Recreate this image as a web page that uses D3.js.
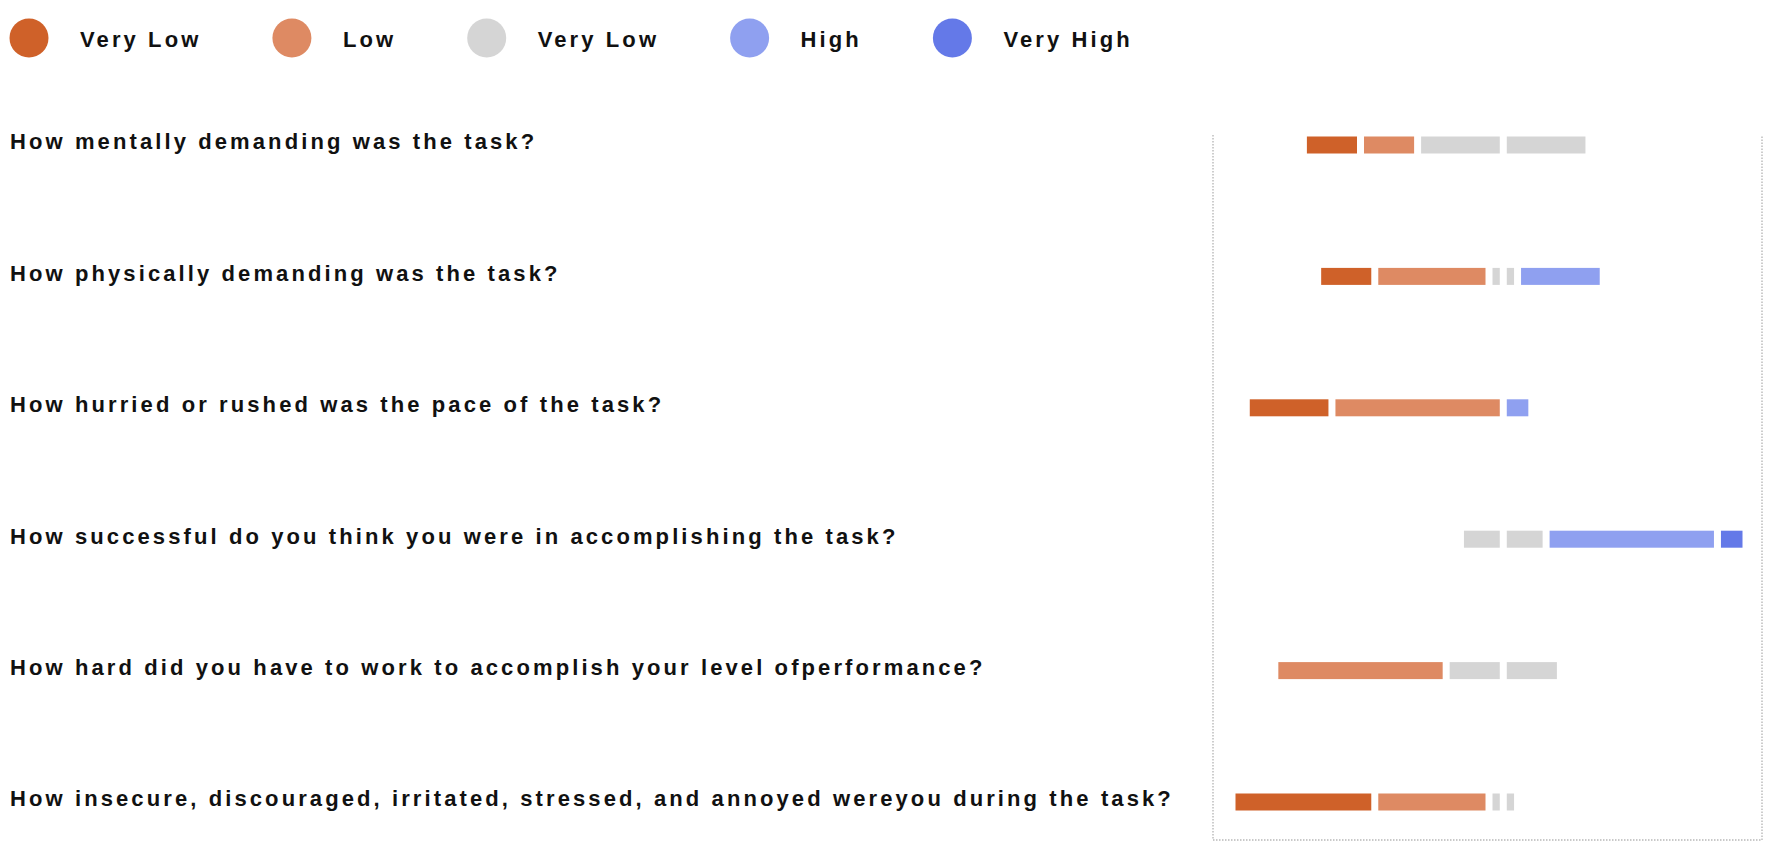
<!DOCTYPE html>
<html>
<head>
<meta charset="utf-8">
<script src="https://cdn.jsdelivr.net/npm/d3@7"></script>
<style>
  body { margin: 0; background: #fff; }
  text { font-family: "Liberation Sans", Arial, Helvetica, sans-serif; font-weight: bold; fill: #111; }
</style>
</head>
<body>
<div id="chart"></div>
<script>
// ── Data (counts of 10 participants) ──────────────────────
const questions = [
  "How mentally demanding was the task?",
  "How physically demanding was the task?",
  "How hurried or rushed was the pace of the task?",
  "How successful do you think you were in accomplishing the task?",
  "How hard did you have to work to accomplish your level ofperformance?",
  "How insecure, discouraged, irritated, stressed, and annoyed wereyou during the task?"
];
const legendLabels = ["Very Low", "Low", "Very Low", "High", "Very High"];
const veryLow  = [2, 2, 3, 0, 0, 5];
const low      = [2, 4, 6, 0, 6, 4];
const neutral  = [6, 1, 0, 3, 4, 1];
const high     = [0, 3, 1, 6, 0, 0];
const veryHigh = [0, 0, 0, 1, 0, 0];
const colours  = ["#cf6129", "#de8a63", "#d5d5d5", "#8fa0f0", "#6479e8"];

const W = 1772, H = 857;
const BAR_H = 17, GAP = 3.5;
const FONT = 22, SPACING = 3.1;

const svg = d3.select("#chart").append("svg").attr("width", W).attr("height", H);

// ── Scales ─────────────────────────────────────────────────
const x = d3.scaleLinear().domain([-9.5, 8.5]).range([1232, 1746]);
const y = d3.scalePoint().domain(questions).range([145, 802]);

// ── Frame (dotted) ─────────────────────────────────────────
const bx0 = 1213, bx1 = 1762, by0 = 135, by1 = 840;
svg.append("path")
  .attr("d", `M${bx0},${by0}V${by1}H${bx1}V${by0}`)
  .attr("fill", "none").attr("stroke", "#b8b8b8").attr("stroke-width", 1.4)
  .attr("stroke-dasharray", "1.5,1.5");

// ── Legend ─────────────────────────────────────────────────
const lg = svg.append("g");
let lx = 29;
legendLabels.forEach((lab, i) => {
  lg.append("circle").attr("cx", lx).attr("cy", 38).attr("r", 19.5).attr("fill", colours[i]);
  const t = lg.append("text").attr("x", lx + 51).attr("y", 46.5)
    .attr("font-size", FONT).attr("letter-spacing", SPACING).text(lab);
  lx = lx + 51 + t.node().getComputedTextLength() + 71 + 19.5;
});

// ── Question labels ────────────────────────────────────────
svg.append("g").selectAll("text").data(questions).join("text")
  .attr("x", 10).attr("y", d => y(d) + 4.3)
  .attr("font-size", FONT).attr("letter-spacing", SPACING)
  .text(d => d);

// ── Diverging stacked bars ─────────────────────────────────
const rows = questions.map((q, i) => {
  const parts = [veryLow[i], low[i], neutral[i] / 2, neutral[i] / 2, high[i], veryHigh[i]];
  const cols  = [colours[0], colours[1], colours[2], colours[2], colours[3], colours[4]];
  let start = -(veryLow[i] + low[i] + neutral[i] / 2);
  return parts.map((v, j) => {
    const seg = { q, x0: start, x1: start + v, fill: cols[j] };
    start += v;
    return seg;
  }).filter(s => s.x1 > s.x0);
});

svg.append("g").selectAll("rect").data(rows.flat()).join("rect")
  .attr("x", d => x(d.x0) + GAP)
  .attr("width", d => Math.max(0, x(d.x1) - x(d.x0) - 2 * GAP))
  .attr("y", d => y(d.q) - BAR_H / 2)
  .attr("height", BAR_H)
  .attr("fill", d => d.fill);
</script>
</body>
</html>
